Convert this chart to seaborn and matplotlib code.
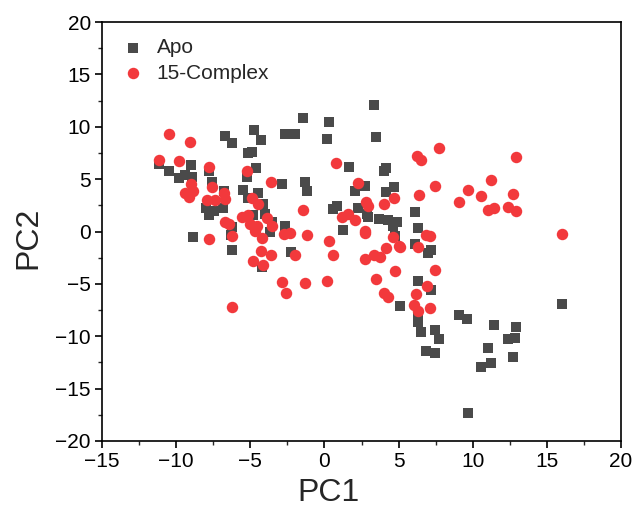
import numpy as np
import pandas as pd
import matplotlib
matplotlib.use("Agg")
import matplotlib.pyplot as plt
from matplotlib.ticker import MultipleLocator
import seaborn as sns

apo_pc1 = [-11.15, -10.49, -9.82, -9.41, -8.92, -9.03, -7.79, -7.55, -6.71, -6.26,
           -4.78, -4.28, -5.18, -4.86, -4.61, -5.22, -6.80, -5.52, -4.46, -5.18,
           -4.17, -8.01, -7.43, -7.77, -6.82, -4.80, -4.01, -3.56, -3.67, -6.26,
           -6.30, -8.85, -6.22, -4.24, -2.66, -1.99, -2.89, -2.66, -2.23, -1.42,
           0.34, 0.20, 3.31, 3.49, 1.67, 3.99, 4.12, -1.32, -1.15, 2.03,
           2.75, 4.16, 4.71, 0.56, 0.83, 2.25, 2.86, 2.97, 3.70, 4.32,
           4.89, 4.61, 6.08, 6.30, 1.22, 4.78, 6.13, 7.16, 6.96, 6.30,
           7.16, 5.07, 6.30, 6.30, 6.53, 7.43, 7.75, 6.84, 7.48, 9.09,
           9.63, 11.44, 12.89, 12.36, 12.84, 11.01, 12.70, 10.56, 11.26, 9.66,
           15.99]
apo_pc2 = [6.49, 5.73, 5.09, 5.41, 5.18, 6.37, 5.82, 4.68, 9.16, 8.43,
           9.67, 8.78, 7.51, 7.57, 6.04, 5.25, 3.91, 3.94, 3.69, 3.20,
           2.58, 2.29, 1.91, 1.53, 2.29, 1.53, 1.69, 0.89, 0.00, 0.41,
           -0.38, -0.57, -1.75, -3.41, 9.29, 9.29, 4.49, 0.48, -2.00, 10.85,
           10.43, 8.83, 12.12, 9.00, 6.14, 5.82, 6.06, 4.68, 3.82, 3.87,
           4.36, 3.75, 4.23, 2.17, 2.39, 2.26, 1.69, 1.37, 1.21, 1.10,
           0.86, 0.48, 1.84, 0.36, 0.19, -0.43, -1.17, -1.75, -2.07, -4.77,
           -5.57, -7.09, -8.21, -8.64, -9.64, -9.38, -10.26, -11.43, -11.62, -7.94,
           -8.31, -8.91, -9.07, -10.31, -10.15, -11.10, -12.00, -12.95, -12.57, -17.31,
           -6.90]

cpx_pc1 = [-11.15, -10.49, -9.05, -9.82, -7.79, -5.25, -3.63, -8.97, -7.55, -9.41,
           -8.85, -9.14, -6.78, -6.71, -7.95, -7.39, -4.86, -4.46, -6.71, -6.44,
           -6.22, -7.79, -5.59, -5.18, -5.02, -4.57, -4.68, -3.90, -3.51, -4.24,
           -4.28, -3.60, -4.84, -4.17, -2.70, -2.32, -1.98, -2.89, -2.61, -6.20,
           0.79, 6.24, 6.53, 7.74, 2.24, 2.82, 2.97, 3.99, 4.71, 6.35,
           7.48, 12.89, 11.24, 9.68, 10.56, 9.10, 12.70, 11.03, 11.44, 12.39,
           12.89, 15.99, -1.42, 1.17, 1.62, 2.03, -1.20, 0.34, 0.56, 2.72,
           2.75, 4.61, 5.00, 5.07, 4.17, 6.30, 6.87, 7.14, 2.75, 3.31,
           3.72, 4.78, 7.43, 3.49, -1.32, 0.20, 4.03, 4.26, 6.18, 6.94,
           6.05, 6.32, 7.14]
cpx_pc2 = [6.84, 9.29, 8.50, 6.71, 6.14, 5.82, 4.71, 4.49, 4.23, 3.69,
           3.91, 3.27, 3.66, 3.12, 2.96, 2.96, 3.18, 2.60, 0.89, 0.67,
           -0.45, -0.70, 1.43, 1.62, 0.74, 0.57, 0.03, 1.31, 0.48, -0.60,
           -1.88, -2.22, -2.84, -3.18, -0.22, -0.14, -2.29, -4.84, -5.89, -7.16,
           6.56, 7.23, 6.87, 8.00, 4.63, 2.82, 2.39, 2.64, 3.22, 3.48,
           4.30, 7.09, 4.94, 3.98, 3.37, 2.80, 3.60, 2.10, 2.26, 2.32,
           1.91, -0.22, 2.07, 1.43, 1.69, 1.12, -0.38, -0.93, -2.20, -0.19,
           0.05, -0.53, -1.34, -1.50, -1.58, -1.50, -0.38, -0.46, -2.67, -2.29,
           -2.45, -3.79, -3.66, -4.58, -4.90, -4.74, -5.89, -6.21, -6.01, -5.20,
           -7.06, -7.59, -7.26]

groups = ["Apo", "15-Complex"]
colors = ["#4a4a4a", "#f2393c"]

apo = pd.DataFrame({"PC1": apo_pc1, "PC2": apo_pc2})
cpx = pd.DataFrame({"PC1": cpx_pc1, "PC2": cpx_pc2})

sns.set_style("white")
plt.rcParams["font.family"] = ["Liberation Sans", "DejaVu Sans"]

fig = plt.figure(figsize=(6.36, 5.23), dpi=100)
ax = fig.add_axes([102 / 636, 1 - 441 / 523, (621 - 102) / 636, (441 - 22) / 523])

sns.scatterplot(data=apo, x="PC1", y="PC2", color=colors[0], marker="s",
                s=52, linewidth=0, ax=ax, label=groups[0], zorder=3)
sns.scatterplot(data=cpx, x="PC1", y="PC2", color=colors[1], marker="o",
                s=68, linewidth=0, ax=ax, label=groups[1], zorder=4)

ax.set_xlim(-15, 20)
ax.set_ylim(-20, 20)
ax.xaxis.set_major_locator(MultipleLocator(5))
ax.xaxis.set_minor_locator(MultipleLocator(2.5))
ax.yaxis.set_major_locator(MultipleLocator(5))
ax.yaxis.set_minor_locator(MultipleLocator(2.5))
ax.tick_params(axis="both", which="major", direction="out", length=5, width=1.2,
               labelsize=15, colors="black", bottom=True, left=True, top=False, right=False,
               pad=3)
ax.tick_params(axis="both", which="minor", direction="out", length=3, width=1.0,
               bottom=True, left=True, top=False, right=False)
for sp in ax.spines.values():
    sp.set_visible(True)
    sp.set_color("black")
    sp.set_linewidth(1.2)

ax.set_xlabel("PC1", fontsize=23)
ax.set_ylabel("PC2", fontsize=23)
ax.xaxis.set_label_coords((328 - 102) / 519, (441 - 478) / 419)
ax.yaxis.set_label_coords((43 - 102) / 519, (441 - 238) / 419)

leg = ax.legend(loc="upper left", bbox_to_anchor=((114 - 102) / 519, (441 - 30) / 419),
                frameon=False, fontsize=15, handletextpad=0.65, handlelength=1.0,
                borderaxespad=0.0, labelspacing=0.3, markerscale=1.0)

fig.savefig("out.png", dpi=100)
